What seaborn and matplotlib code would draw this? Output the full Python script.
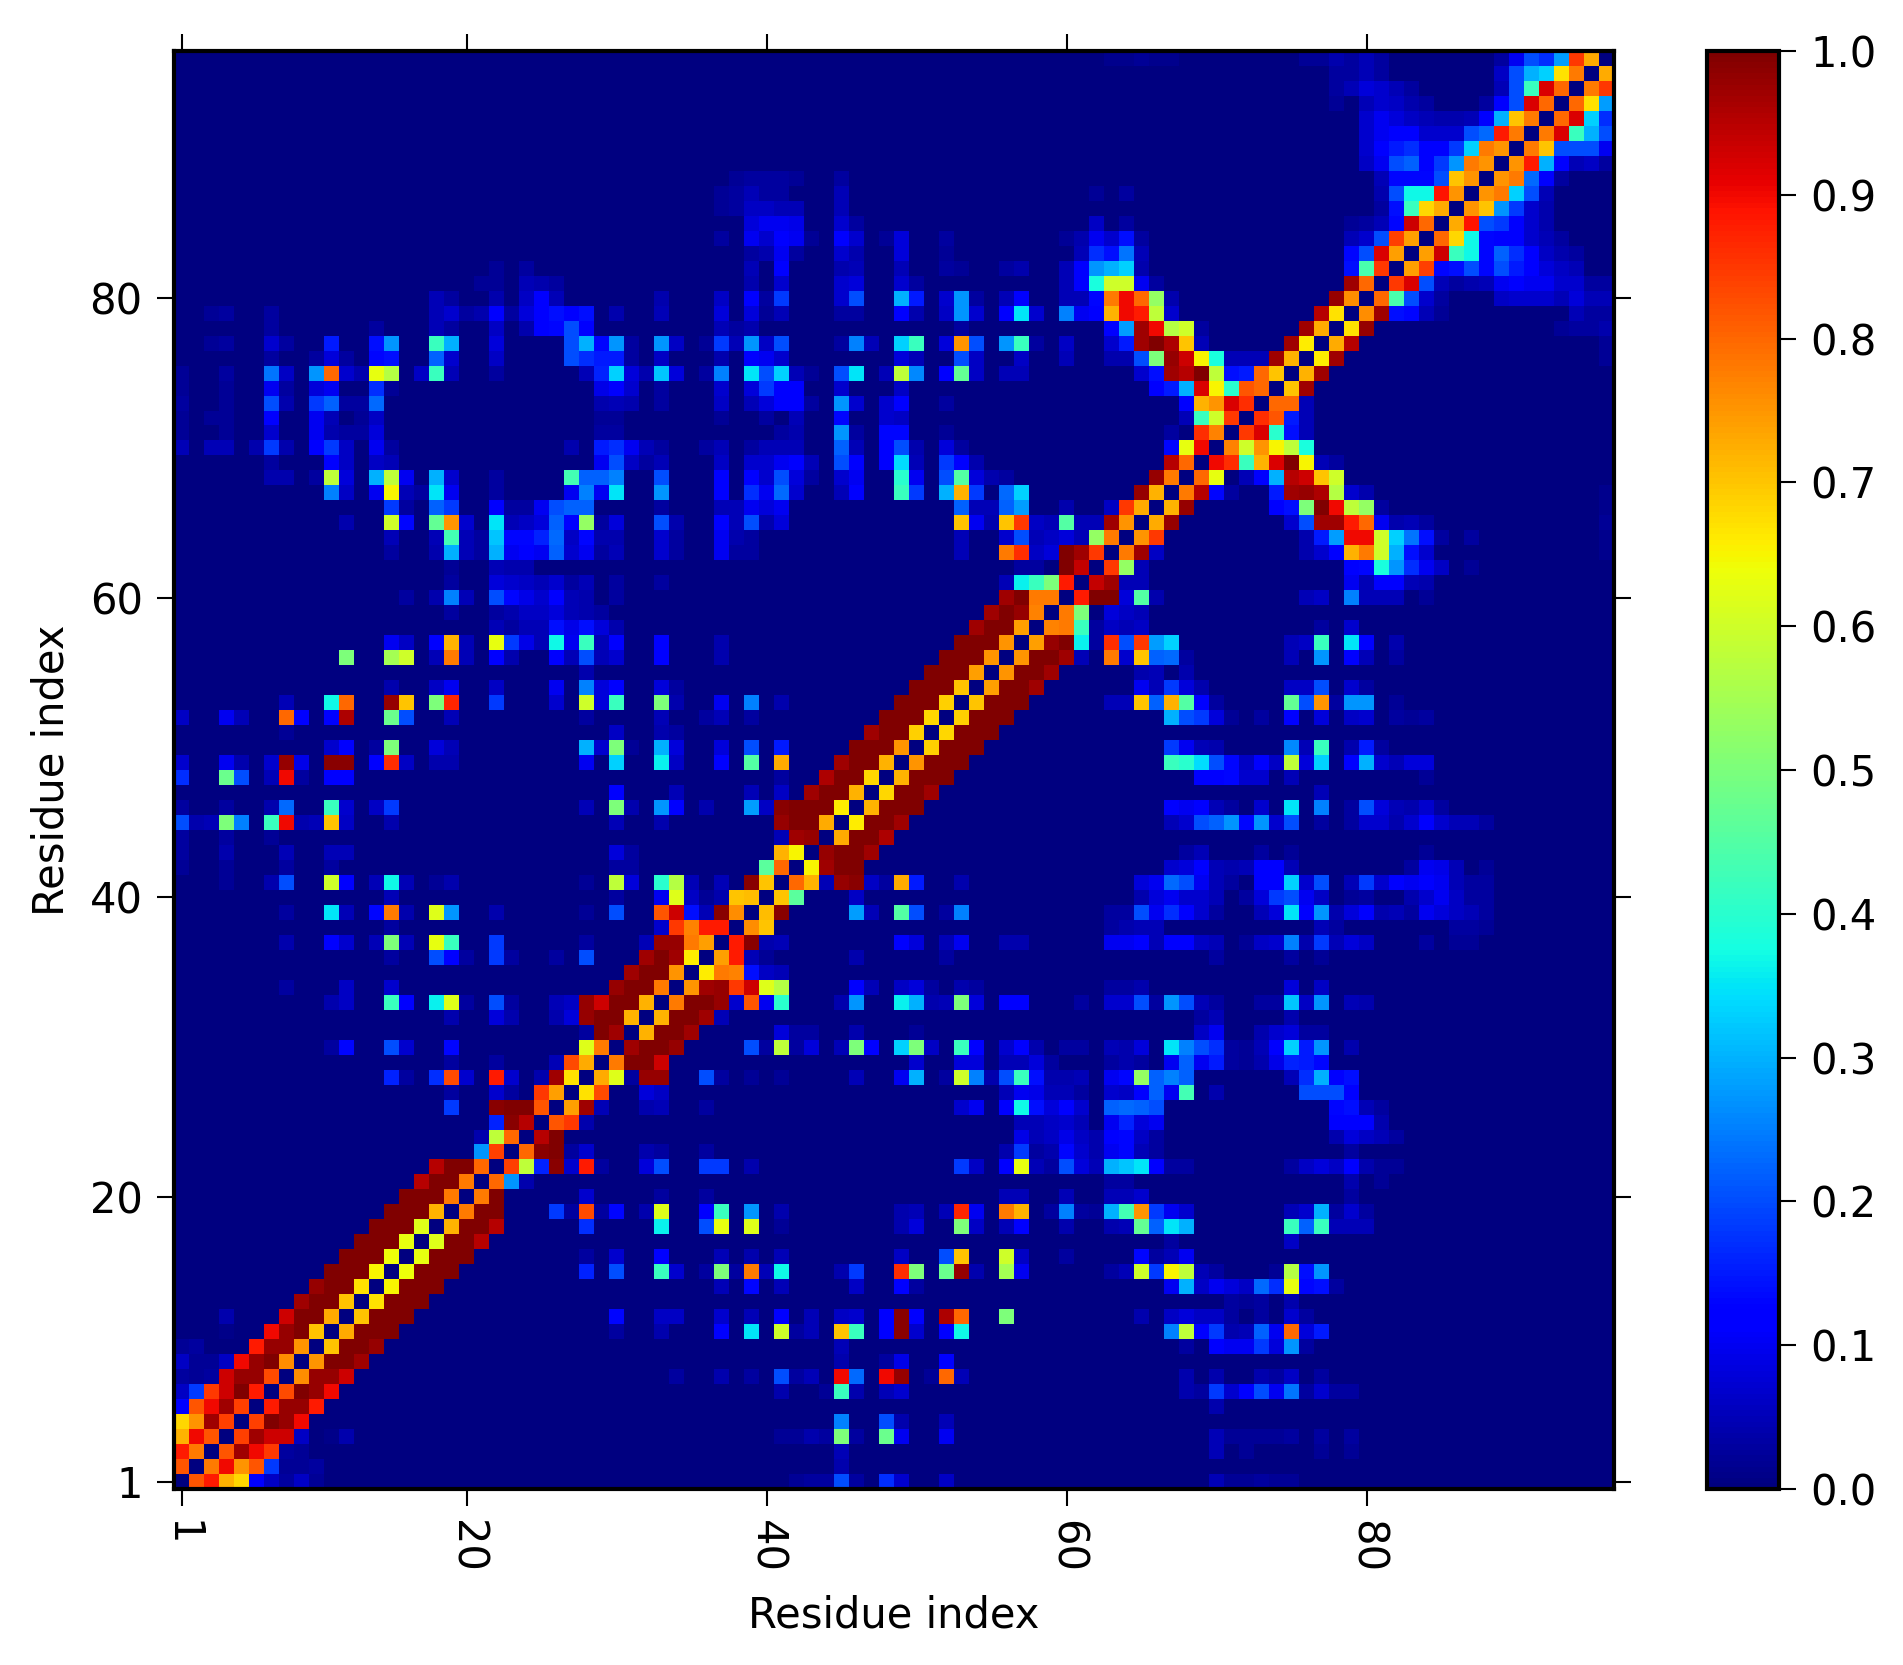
import numpy as np
import pandas as pd
import matplotlib
matplotlib.use("Agg")
import matplotlib.pyplot as plt
import seaborn as sns

# -----------------------------
# DATA: lower triangle of the map, row -> {column: value}, 0-based residues
# -----------------------------
N_RES = 96
TICK_RES = [1, 20, 40, 60, 80]
CBAR_TICKS = [0.0, 0.1, 0.2, 0.3, 0.4, 0.5, 0.6, 0.7, 0.8, 0.9, 1.0]

ROWS_LOW = {
    1: {0: .82},
    2: {0: .88, 1: .78},
    3: {0: .72, 1: .9, 2: .82},
    4: {0: .68, 1: .75, 2: .97, 3: .84},
    5: {0: .12, 1: .82, 2: .9, 3: .97, 4: .84},
    6: {0: .06, 1: .18, 2: .85, 3: .93, 4: 1, 5: .88},
    7: {0: .03, 1: .02, 2: .03, 3: .93, 4: .98, 5: .98, 6: .83},
    8: {0: .06, 1: .02, 2: .02, 3: .06, 4: .9, 5: .98, 6: 1, 7: .76},
    9: {0: .02, 1: .03, 5: .88, 6: .98, 7: .98, 8: .75},
    10: {3: .01, 6: .9, 7: .98, 8: 1, 9: .7},
    11: {3: .04, 7: .93, 8: 1, 9: 1, 10: .73},
    12: {8: .97, 9: 1, 10: 1, 11: .7},
    13: {9: .98, 10: 1, 11: 1, 12: .67},
    14: {10: 1, 11: 1, 12: 1, 13: .65},
    15: {11: 1, 12: 1, 13: 1, 14: .64},
    16: {12: 1, 13: 1, 14: 1, 15: .63},
    17: {13: 1, 14: 1, 15: 1, 16: .62},
    18: {14: 1, 15: 1, 16: 1, 17: .72},
    19: {15: 1, 16: 1, 17: 1, 18: .78},
    20: {16: .95, 17: 1, 18: 1, 19: .78},
    21: {17: .95, 18: 1, 19: 1, 20: .8},
    22: {20: .27, 21: .84},
    23: {20: .04, 21: .58, 22: .8},
    24: {21: .16, 22: .99, 23: .95},
    25: {18: .18, 21: .99, 22: 1, 23: 1, 24: .82},
    26: {18: .03, 21: .07, 22: .03, 24: .85, 25: .74},
    27: {14: .16, 15: .03, 17: .17, 18: .83, 19: .07, 21: .88, 22: .07, 24: .04, 25: .97, 26: .67},
    28: {18: .03, 21: .03, 25: .05, 26: .83, 27: .73},
    29: {10: .03, 11: .13, 14: .2, 15: .07, 18: .13, 27: .62, 28: .78},
    30: {27: .03, 28: 1, 29: .97},
    31: {18: .04, 21: .08, 22: .04, 25: .04, 26: .08, 27: .98, 28: 1, 29: 1, 30: .72},
    32: {10: .04, 11: .06, 14: .42, 15: .12, 17: .36, 18: .62, 19: .03, 21: .2, 22: .03, 25: .05, 26: .06,
         27: .98, 28: .93, 29: 1, 30: 1, 31: .72},
}

ROWS_MID = {
    33: {7: .03, 11: .06, 14: .07, 29: .98, 30: 1, 31: 1, 32: .78},
    34: {30: .97, 31: 1, 32: 1, 33: .75},
    35: {14: .03, 17: .2, 18: .12, 19: .03, 21: .18, 22: .03, 25: .03, 27: .2, 31: .97, 32: 1, 33: .97, 34: .66},
    36: {7: .04, 10: .11, 11: .07, 13: .05, 14: .5, 15: .05, 17: .63, 18: .42, 21: .18, 27: .03, 31: .05,
         32: .98, 33: .98, 34: .78, 35: .74},
    37: {14: .03, 32: .07, 33: .85, 34: .77, 35: .88, 36: .88},
    38: {7: .03, 10: .35, 11: .05, 13: .13, 14: .78, 15: .04, 17: .62, 18: .27, 21: .04, 27: .02, 29: .2,
         32: .82, 33: .93, 34: .14, 35: .05, 36: .99, 37: .76},
    39: {14: .05, 29: .03, 32: .1, 33: .62, 34: .06, 35: .02, 36: .04, 37: .7, 38: .71},
    40: {3: .02, 6: .04, 7: .2, 10: .6, 11: .12, 13: .05, 14: .37, 15: .05, 17: .02, 18: .04, 27: .02, 29: .58,
         30: .08, 32: .4, 33: .57, 34: .05, 36: .05, 38: .99, 39: .7},
    41: {0: .02, 3: .02, 7: .03, 10: .03, 29: .03, 30: .03, 39: .46, 40: .8},
    42: {0: .03, 3: .04, 7: .05, 10: .05, 11: .05, 29: .08, 30: .03, 40: .72, 41: .65},
    43: {0: .03, 3: .03, 6: .02, 40: .05, 41: .97, 42: .98},
    44: {0: .2, 1: .04, 2: .05, 3: .5, 4: .25, 6: .42, 7: .9, 8: .04, 9: .05, 10: .7, 11: .06, 14: .04, 29: .05,
         32: .04, 40: .98, 41: 1, 42: 1, 43: .73},
    45: {0: .03, 3: .03, 6: .04, 7: .23, 10: .42, 11: .07, 13: .06, 14: .18, 27: .05, 29: .5, 30: .04, 32: .27,
         33: .12, 35: .04, 38: .28, 39: .06, 40: .99, 41: 1, 42: 1, 43: 1, 44: .66},
    46: {29: .12, 33: .05, 38: .05, 40: .06, 42: .97, 43: 1, 44: 1, 45: .72},
    47: {0: .17, 3: .48, 4: .2, 6: .05, 7: .9, 8: .03, 10: .12, 11: .12, 40: .03, 43: .96, 44: 1, 45: 1, 46: .68},
    48: {0: .07, 3: .1, 4: .04, 6: .07, 7: .98, 8: .09, 10: .99, 11: .99, 13: .12, 14: .86, 15: .06, 17: .04,
         18: .04, 27: .1, 29: .33, 32: .36, 33: .06, 36: .12, 38: .45, 40: .73, 44: .97, 45: 1, 46: 1, 47: .72},
    49: {10: .07, 11: .11, 13: .03, 14: .5, 17: .08, 18: .05, 27: .3, 28: .07, 29: .5, 30: .02, 32: .3, 33: .08,
         36: .08, 38: .2, 40: .15, 45: 1, 46: 1, 47: 1, 48: .75},
    50: {7: .02, 29: .06, 32: .04, 33: .03, 46: .97, 47: 1, 48: 1, 49: .69},
    51: {0: .06, 3: .1, 4: .05, 7: .8, 8: .12, 10: .12, 11: .96, 14: .48, 15: .2, 18: .05, 27: .03, 32: .05,
         35: .03, 36: .05, 38: .03, 47: 1, 48: 1, 49: 1, 50: .68},
    52: {7: .05, 10: .37, 11: .8, 14: .98, 15: .7, 17: .5, 18: .87, 21: .18, 25: .07, 27: .6, 28: .08, 29: .42,
         32: .5, 33: .04, 36: .1, 38: .25, 40: .04, 48: 1, 49: 1, 50: 1, 51: .69},
    53: {14: .04, 17: .06, 18: .1, 21: .06, 25: .1, 27: .25, 28: .08, 29: .12, 32: .08, 33: .03, 49: 1, 50: 1,
         51: 1, 52: .7},
    54: {27: .04, 50: 1, 51: 1, 52: 1, 53: .74},
    55: {11: .5, 14: .55, 15: .6, 17: .05, 18: .78, 19: .05, 21: .12, 22: .04, 25: .12, 26: .05, 27: .2, 28: .05,
         29: .07, 32: .12, 36: .04, 51: 1, 52: 1, 53: 1, 54: .75},
    56: {14: .1, 15: .06, 17: .12, 18: .72, 19: .05, 21: .63, 22: .18, 23: .09, 24: .05, 25: .37, 26: .1, 27: .42,
         28: .05, 29: .12, 32: .11, 36: .04, 52: 1, 53: 1, 54: 1, 55: .75},
    57: {21: .05, 22: .03, 23: .05, 24: .05, 25: .14, 26: .09, 27: .14, 28: .08, 29: .04, 53: .97, 54: 1, 55: 1,
         56: .74},
    58: {18: .03, 21: .03, 22: .04, 23: .06, 24: .06, 25: .08, 26: .05, 27: .04, 28: .03, 54: .97, 55: 1, 56: .98,
         57: .77},
    59: {15: .03, 17: .04, 18: .25, 19: .05, 21: .2, 22: .13, 23: .09, 24: .07, 25: .12, 26: .05, 27: .04, 29: .03,
         55: .97, 56: 1, 57: .78, 58: .78},
    60: {18: .03, 21: .08, 22: .07, 23: .06, 24: .05, 25: .07, 26: .03, 27: .05, 29: .03, 32: .03, 55: .05,
         56: .36, 57: .42, 58: .5, 59: .88},
    61: {18: .02, 21: .05, 22: .04, 23: .04, 56: .03, 57: .03, 59: 1, 60: .94},
    62: {14: .03, 17: .04, 18: .3, 19: .05, 20: .03, 21: .3, 22: .1, 23: .12, 24: .1, 25: .22, 26: .07, 27: .1,
         28: .03, 29: .05, 32: .07, 33: .03, 36: .1, 37: .03, 38: .03, 52: .05, 55: .78, 56: .86, 57: .06, 58: .08,
         59: 1, 60: .97, 61: .85},
    63: {14: .05, 17: .05, 18: .43, 19: .05, 20: .03, 21: .32, 22: .13, 23: .13, 24: .16, 25: .23, 26: .06, 27: .13,
         28: .04, 29: .04, 32: .07, 33: .03, 36: .1, 37: .04, 38: .03, 52: .05, 55: .07, 56: .2, 57: .05, 58: .06,
         59: .08, 60: .05, 61: .53, 62: .78},
    64: {11: .04, 14: .6, 15: .13, 17: .47, 18: .75, 19: .07, 21: .35, 22: .05, 23: .06, 24: .08, 25: .22, 26: .12,
         27: .53, 28: .03, 29: .08, 32: .2, 33: .04, 36: .12, 37: .05, 38: .2, 39: .04, 40: .08, 52: .7, 53: .1,
         54: .04, 55: .7, 56: .85, 57: .06, 58: .05, 59: .45, 60: .05, 61: .05, 62: .97, 63: .75},
}

ROWS_HIGH = {
    65: {14: .18, 15: .03, 17: .22, 18: .18, 21: .12, 22: .03, 23: .03, 24: .1, 25: .2, 26: .22, 27: .22, 32: .03,
         36: .05, 37: .05, 38: .1, 39: .08, 40: .1, 52: .22, 53: .05, 54: .05, 55: .22, 56: .28, 59: .04, 62: .06,
         63: .85, 64: .73},
    66: {10: .25, 11: .06, 13: .1, 14: .65, 15: .05, 16: .03, 17: .35, 18: .1, 21: .03, 26: .1, 27: .25, 28: .1,
         29: .35, 32: .27, 36: .12, 38: .17, 39: .1, 40: .23, 41: .07, 44: .05, 45: .12, 48: .42, 49: .18, 51: .3,
         52: .72, 53: .18, 55: .23, 56: .33, 64: .98, 65: .72},
    67: {6: .04, 7: .04, 9: .03, 10: .58, 11: .08, 13: .3, 14: .58, 15: .1, 17: .3, 18: .07, 21: .03, 26: .43,
         27: .22, 28: .22, 29: .25, 32: .2, 36: .12, 38: .12, 39: .07, 40: .2, 41: .08, 42: .03, 44: .07, 45: .1,
         48: .4, 49: .1, 51: .2, 52: .45, 53: .08, 54: .04, 55: .03, 65: .98, 66: .78},
    68: {6: .03, 10: .12, 11: .06, 13: .06, 14: .05, 28: .1, 29: .2, 30: .06, 31: .03, 32: .05, 36: .06, 38: .07,
         39: .07, 40: .1, 41: .12, 42: .05, 44: .2, 45: .12, 47: .12, 48: .34, 49: .05, 51: .18, 52: .12, 53: .04,
         66: .95, 67: .8},
    69: {0: .05, 2: .05, 3: .05, 5: .04, 6: .18, 7: .04, 9: .11, 10: .18, 11: .06, 13: .1, 14: .03, 26: .04, 28: .15,
         29: .17, 30: .1, 31: .05, 32: .03, 35: .03, 36: .05, 38: .03, 39: .05, 40: .05, 41: .05, 44: .22, 45: .05,
         47: .12, 48: .2, 49: .04, 51: .08, 52: .03, 66: .13, 67: .63, 68: .9},
    70: {0: .02, 3: .02, 6: .07, 9: .1, 10: .04, 11: .03, 12: .03, 13: .08, 28: .03, 29: .03, 40: .03, 41: .04,
         44: .27, 45: .03, 47: .13, 48: .13, 51: .02, 66: .03, 68: .86, 69: .77},
    71: {0: .02, 2: .02, 3: .02, 6: .12, 9: .1, 10: .05, 12: .02, 13: .06, 28: .02, 29: .02, 36: .02, 39: .03, 41: .05,
         44: .13, 47: .07, 48: .06, 67: .05, 68: .42, 69: .6, 70: .85},
    72: {0: .03, 3: .02, 6: .2, 7: .04, 9: .18, 10: .22, 11: .03, 12: .03, 13: .23, 28: .04, 29: .05, 30: .04, 32: .03,
         36: .06, 38: .05, 39: .08, 40: .12, 41: .12, 42: .03, 44: .27, 45: .07, 47: .07, 48: .11, 51: .03, 67: .12,
         68: .72, 69: .75, 70: .92, 71: .86},
    73: {0: .02, 3: .02, 6: .1, 7: .03, 9: .08, 10: .1, 13: .17, 14: .02, 28: .09, 29: .12, 30: .07, 32: .03, 36: .07,
         38: .08, 39: .18, 40: .12, 41: .12, 44: .07, 48: .06, 65: .12, 66: .15, 67: .3, 68: .92, 69: .65, 70: .4,
         71: .82, 72: .8},
    74: {0: .02, 3: .03, 6: .24, 7: .06, 9: .27, 10: .8, 11: .07, 12: .04, 13: .63, 14: .57, 16: .06, 17: .42, 18: .05,
         21: .03, 27: .05, 28: .16, 29: .33, 30: .08, 31: .04, 32: .32, 33: .08, 35: .03, 36: .25, 38: .35, 39: .2,
         40: .33, 41: .05, 42: .02, 44: .2, 45: .35, 47: .05, 48: .58, 49: .26, 51: .12, 52: .47, 53: .06, 55: .05,
         56: .05, 64: .07, 65: .14, 66: .97, 67: .95, 68: 1, 69: .58, 70: .14, 71: .15, 72: .8, 73: .7},
    75: {6: .03, 9: .03, 10: .08, 11: .03, 13: .13, 14: .14, 17: .22, 18: .07, 21: .06, 26: .2, 27: .17, 28: .15,
         29: .15, 30: .03, 32: .06, 36: .04, 38: .12, 39: .1, 40: .07, 48: .08, 49: .05, 52: .2, 53: .06, 56: .06,
         59: .05, 62: .04, 63: .04, 64: .2, 65: .5, 66: .98, 67: .93, 68: .65, 69: .38, 70: .05, 71: .05, 72: .05,
         73: .97, 74: .72},
    76: {2: .02, 3: .03, 6: .07, 7: .03, 10: .15, 13: .14, 14: .27, 17: .42, 18: .3, 21: .08, 26: .2, 27: .3, 28: .13,
         29: .27, 30: .03, 32: .27, 33: .06, 35: .02, 36: .18, 37: .05, 38: .27, 39: .06, 40: .2, 44: .03, 45: .25,
         46: .05, 48: .33, 49: .42, 51: .08, 52: .75, 53: .2, 55: .27, 56: .42, 57: .03, 59: .06, 62: .07, 63: .15,
         64: .97, 65: 1, 66: .96, 67: .7, 68: .05, 74: .97, 75: .66},
    77: {6: .03, 13: .03, 17: .05, 18: .03, 21: .06, 23: .04, 24: .12, 25: .13, 26: .2, 27: .12, 36: .05, 37: .03,
         38: .04, 52: .03, 62: .12, 63: .28, 64: .97, 65: .9, 66: .57, 67: .6, 68: .03, 75: .97, 76: .73},
    78: {2: .02, 3: .03, 6: .03, 17: .05, 18: .07, 19: .03, 20: .04, 21: .12, 22: .03, 23: .08, 24: .12, 25: .14,
         26: .12, 27: .14, 29: .04, 32: .05, 36: .08, 38: .08, 39: .02, 40: .05, 44: .03, 45: .03, 48: .12, 49: .04,
         51: .06, 52: .27, 53: .07, 55: .12, 56: .35, 57: .07, 59: .25, 60: .1, 61: .12, 62: .72, 63: .9, 64: .88,
         65: .58, 66: .07, 76: .95, 77: .67},
    79: {17: .05, 18: .03, 21: .04, 23: .06, 24: .12, 25: .05, 32: .04, 36: .06, 38: .12, 39: .03, 40: .18, 44: .07,
         45: .2, 48: .3, 49: .15, 51: .07, 52: .27, 53: .03, 55: .05, 56: .12, 59: .05, 60: .05, 61: .13, 62: .78,
         63: .9, 64: .8, 65: .53, 66: .04, 77: .98, 78: .76},
    80: {20: .02, 21: .02, 23: .05, 24: .04, 25: .03, 38: .04, 40: .07, 44: .07, 45: .08, 48: .07, 49: .03, 59: .05,
         60: .11, 61: .38, 62: .6, 63: .6, 64: .1, 65: .03, 78: .97, 79: .8},
    81: {21: .02, 23: .03, 38: .05, 40: .12, 44: .04, 45: .05, 48: .05, 51: .03, 52: .02, 55: .03, 56: .04, 59: .05,
         60: .11, 61: .27, 62: .3, 63: .33, 64: .04, 78: .14, 79: .44, 80: .85},
    82: {38: .03, 39: .04, 40: .1, 41: .03, 44: .07, 45: .04, 48: .08, 51: .02, 60: .05, 61: .17, 62: .14, 63: .24,
         64: .05, 78: .13, 79: .2, 80: .92, 81: .74},
    83: {36: .03, 38: .1, 39: .07, 40: .12, 41: .1, 42: .02, 44: .12, 45: .07, 47: .02, 48: .08, 51: .03, 59: .02,
         60: .04, 61: .1, 62: .07, 63: .14, 64: .03, 78: .05, 79: .07, 80: .2, 81: .84, 82: .74},
    84: {38: .08, 39: .1, 40: .1, 41: .09, 44: .07, 45: .03, 61: .06, 63: .03, 78: .02, 79: .03, 80: .05, 81: .13,
         82: .93, 83: .8},
    85: {36: .02, 37: .03, 38: .06, 39: .06, 40: .05, 41: .05, 44: .05, 80: .03, 81: .14, 82: .42, 83: .68, 84: .73},
    86: {36: .02, 37: .03, 38: .05, 39: .03, 40: .03, 44: .05, 61: .02, 63: .03, 80: .04, 81: .2, 82: .37, 83: .37,
         84: .89, 85: .75},
    87: {37: .02, 38: .03, 39: .03, 40: .03, 41: .02, 44: .03, 80: .05, 81: .13, 82: .13, 83: .13, 84: .2, 85: .7,
         86: .75},
    88: {79: .06, 80: .1, 81: .2, 82: .22, 83: .12, 84: .18, 85: .27, 86: .78, 87: .75},
    89: {79: .07, 80: .12, 81: .15, 82: .17, 83: .12, 84: .12, 85: .18, 86: .33, 87: .78, 88: .75},
    90: {79: .07, 80: .1, 81: .12, 82: .12, 83: .07, 84: .07, 85: .07, 86: .2, 87: .23, 88: .88, 89: .78},
    91: {79: .07, 80: .1, 81: .08, 82: .06, 83: .05, 84: .04, 85: .04, 86: .05, 87: .12, 88: .3, 89: .7, 90: .78},
    92: {77: .02, 79: .05, 80: .07, 81: .06, 82: .04, 83: .03, 87: .03, 88: .12, 89: .2, 90: .92, 91: .8},
    93: {77: .03, 78: .05, 79: .08, 80: .07, 81: .05, 82: .03, 88: .05, 89: .2, 90: .42, 91: .92, 92: .8},
    94: {77: .03, 78: .03, 79: .05, 80: .03, 88: .06, 89: .2, 90: .3, 91: .33, 92: .67, 93: .78},
    95: {62: .015, 63: .015, 64: .02, 65: .015, 66: .015, 75: .02, 76: .02, 77: .04, 78: .03, 79: .05, 80: .03, 88: .03,
         89: .1, 90: .2, 91: .17, 92: .28, 93: .85, 94: .73},
}


# -----------------------------
# BUILD SYMMETRIC MATRIX
# -----------------------------
def build_matrix():
    mat = np.zeros((N_RES, N_RES))
    for block in [ROWS_LOW, ROWS_MID, ROWS_HIGH]:
        for row, cells in block.items():
            for col, val in cells.items():
                mat[row, col] = val
                mat[col, row] = val
    return pd.DataFrame(mat)


# -----------------------------
# PLOT
# -----------------------------
W, H = 1903, 1665
fig = plt.figure(figsize=(W / 300, H / 300), dpi=300)
ax = fig.add_axes([174 / W, (H - 1489) / H, 1440 / W, 1438 / H])
cax = fig.add_axes([1707 / W, (H - 1489) / H, 72 / W, 1438 / H])

sns.heatmap(build_matrix(), ax=ax, cbar_ax=cax, cmap="jet", vmin=0, vmax=1,
            xticklabels=False, yticklabels=False)
ax.set_xlim(0, N_RES)
ax.set_ylim(0, N_RES)

tick_pos = [t - 0.5 for t in TICK_RES]
ax.set_xticks(tick_pos)
ax.set_xticklabels(TICK_RES, rotation=270)
ax.set_yticks(tick_pos)
ax.set_yticklabels(TICK_RES, rotation=0)
ax.tick_params(direction="out", length=4, width=0.5, top=True, right=True, labelsize=10, pad=3.5)
ax.set_xlabel("Residue index", fontsize=10, labelpad=5)
ax.set_ylabel("Residue index", fontsize=10, labelpad=4)

for spine in ax.spines.values():
    spine.set_visible(True)
    spine.set_linewidth(1.0)
    spine.set_color("black")

cbar = ax.collections[0].colorbar
cbar.set_ticks(CBAR_TICKS)
cbar.set_ticklabels([f"{t:.1f}" for t in CBAR_TICKS])
cbar.ax.tick_params(direction="out", length=4, width=0.5, labelsize=10, pad=3.5)
cbar.outline.set_visible(True)
cbar.outline.set_linewidth(1.0)
cbar.outline.set_edgecolor("black")

fig.savefig("out.png", dpi=300)
plt.close(fig)
